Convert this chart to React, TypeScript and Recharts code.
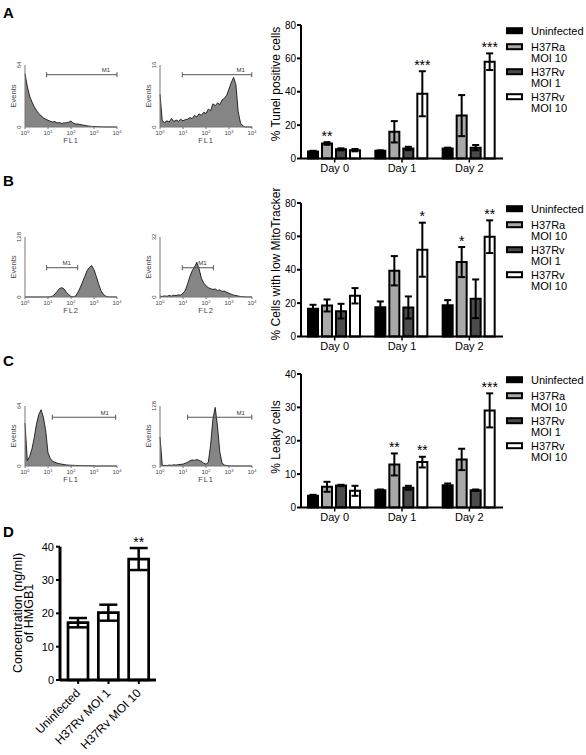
import React from "react";
import {
  Area,
  AreaChart,
  Bar,
  BarChart,
  ErrorBar,
  LabelList,
  ReferenceLine,
  XAxis,
  YAxis,
} from "recharts";

const FONT = "'Liberation Sans', Arial, Helvetica, sans-serif";

// ---- bar panels A-C ----
const days = ["Day 0", "Day 1", "Day 2"];
const groupNames = [["Uninfected"], ["H37Ra", "MOI 10"], ["H37Rv", "MOI 1"], ["H37Rv", "MOI 10"]];
const groupFills = ["#000000", "#a9a9a9", "#4b4b4b", "#ffffff"];

// rows: Uninfected, H37Ra MOI 10, H37Rv MOI 1, H37Rv MOI 10 ; columns: day 0,1,2
const tunelMean = [
  [4.2, 4.6, 6.0],
  [9.0, 16.0, 25.7],
  [5.5, 6.0, 6.5],
  [5.0, 38.8, 58.0],
];
const tunelErr = [
  [0.4, 0.3, 0.5],
  [0.8, 6.4, 12.3],
  [0.6, 1.0, 1.6],
  [0.7, 13.5, 5.0],
];
const tunelSig = [
  ["", "", ""],
  ["**", "", ""],
  ["", "", ""],
  ["", "***", "***"],
];

const mitoMean = [
  [16.6, 17.6, 18.8],
  [18.6, 39.4, 44.6],
  [15.2, 17.4, 22.6],
  [24.4, 52.0, 59.8],
];
const mitoErr = [
  [2.4, 3.4, 3.0],
  [3.6, 8.8, 9.0],
  [4.4, 6.6, 11.6],
  [4.6, 16.2, 9.8],
];
const mitoSig = [
  ["", "", ""],
  ["", "", "*"],
  ["", "", ""],
  ["", "*", "**"],
];

const leakyMean = [
  [3.5, 5.2, 6.7],
  [6.2, 12.9, 14.4],
  [6.6, 5.9, 5.2],
  [5.0, 13.6, 29.1],
];
const leakyErr = [
  [0.3, 0.2, 0.5],
  [1.5, 3.3, 3.2],
  [0.2, 0.6, 0.2],
  [1.5, 1.6, 5.1],
];
const leakySig = [
  ["", "", ""],
  ["", "**", ""],
  ["", "", ""],
  ["", "**", "***"],
];

const ticks80 = [0, 20, 40, 60, 80];
const ticks40 = [0, 10, 20, 30, 40];

// ---- panel D ----
const hmgbNames = ["Uninfected", "H37Rv MOI 1", "H37Rv MOI 10"];
const hmgbMean = [17.2, 20.2, 36.3];
const hmgbErr = [1.4, 2.4, 3.3];
const hmgbSig = ["", "", "**"];

// ---- flow histograms (x = log10 fluorescence) ----
const channels = [
  0, 0.1, 0.2, 0.3, 0.4, 0.5, 0.6, 0.7, 0.8, 0.9, 1, 1.1, 1.2, 1.3, 1.4, 1.5, 1.6, 1.7, 1.8, 1.9, 2,
  2.1, 2.2, 2.3, 2.4, 2.5, 2.6, 2.7, 2.8, 2.9, 3, 3.1, 3.2, 3.3, 3.4, 3.5, 3.6, 3.7, 3.8, 3.9, 4,
];
const decades = [0, 1, 2, 3, 4];

const histA1 = [
  55, 42, 32, 26, 21, 17, 14, 11.5, 9.5, 8, 7, 6, 5.2, 5.6, 4.2, 4.6, 3.6, 4.2, 4.4, 5.0, 6.2, 4.0,
  3.2, 3.0, 2.6, 2.1, 1.6, 1.2, 0.9, 0.6, 0.5, 0.4, 0.3, 0.2, 0.1, 0, 0, 0, 0, 0, 0,
];
const histA2 = [
  8.5, 1.5, 1.2, 1.6, 1.3, 2.2, 1.4, 1.8, 1.5, 2.0, 1.6, 1.9, 2.0, 2.4, 2.2, 3.0, 2.6, 3.4, 3.0, 3.8,
  3.5, 4.6, 4.2, 6.0, 5.5, 6.2, 5.8, 7.0, 7.4, 8.2, 9.8, 11.5, 12.8, 11.0, 4.0, 1.0, 0.3, 0, 0, 0, 0,
];
const histB1 = [
  0, 0, 0, 0, 0, 0, 0, 0, 0, 0, 0, 0.5, 2, 6, 12, 18, 20, 17, 10, 5, 1, 0.5, 2, 10, 20, 32, 44, 56,
  63, 67, 58, 44, 28, 14, 6, 2, 0.5, 0, 0, 0, 0,
];
const histB2 = [
  0.5, 0.3, 0.6, 0.4, 0.8, 0.5, 1.0, 0.7, 1.2, 1.0, 2.0, 3.5, 7, 11, 14, 16, 18.5, 15, 10, 7.5, 6, 5,
  4.5, 4, 4.3, 3.5, 3.8, 3.0, 3.2, 2.5, 2.0, 1.5, 1.0, 0.8, 0.5, 0.3, 0.2, 0, 0, 0, 0,
];
const histC1 = [
  46, 6, 10, 18, 30, 45, 55, 60, 52, 38, 14, 8, 5, 4, 3, 2.5, 2, 1.5, 1.2, 1, 0.8, 0.7, 0.6, 0.5, 0.5,
  0.4, 0.4, 0.3, 0.3, 0.2, 0.2, 0, 0, 0, 0, 0, 0, 0, 0, 0, 0,
];
const histC2 = [
  62, 1, 1.5, 1, 2, 1.5, 2.5, 2, 3, 3.5, 4, 6, 8, 11, 13, 12, 14, 12, 10, 6, 4, 8, 45, 100, 125, 85,
  30, 6, 2, 1, 0.5, 0, 0, 0, 0, 0, 0, 0, 0, 0, 0,
];

// M1 gates: [from, to, height]
const gateA1 = [0.94, 4.0, 54];
const gateA2 = [0.97, 3.99, 13.5];
const gateB1 = [0.94, 2.29, 62.5];
const gateB2 = [0.97, 2.32, 15.6];
const gateC1 = [1.19, 3.94, 52];
const gateC2 = [1.2, 3.99, 104];

const makeStars = (errs: number[], means: number[], size: number, gap: number) => (props: any) => {
  const { value, index } = props;
  if (!value) return null;
  const vb = props.viewBox ?? props;
  const errPx = (errs[index] / means[index]) * vb.height;
  return (
    <text
      x={vb.x + vb.width / 2}
      y={vb.y - errPx - gap}
      textAnchor="middle"
      fontSize={size}
      fontFamily={FONT}
      fill="#000"
    >
      {value}
    </text>
  );
};

function LegendBox({ left, top }: { left: number; top: number }) {
  const rows = [5.7, 21.7, 46.7, 71.7];
  return (
    <svg style={{ position: "absolute", left, top }} width={84} height={100}>
      {groupNames.map((lines, g) => (
        <g key={g}>
          <rect x={2} y={rows[g] - 2.5} width={15} height={5} fill={groupFills[g]} stroke="#000" strokeWidth={2} />
          {lines.map((t, k) => (
            <text key={k} x={26} y={rows[g] + 4 + k * 11.6} fontSize={11} fontFamily={FONT} fill="#000">
              {t}
            </text>
          ))}
        </g>
      ))}
    </svg>
  );
}

function DayPanel(props: {
  plotTop: number;
  mean: number[][];
  err: number[][];
  sig: string[][];
  yMax: number;
  ticks: number[];
  title: string;
  titleY: number;
}) {
  const { plotTop, mean, err, sig, yMax, ticks, title, titleY } = props;
  const mt = 20;
  const plotH = 133.5;
  const rows = days.map((day, i) => {
    const row: Record<string, string | number> = { day };
    mean.forEach((m, g) => {
      row["m" + g] = m[i];
      row["e" + g] = err[g][i];
      row["s" + g] = sig[g][i];
    });
    return row;
  });
  const top = plotTop - mt;
  return (
    <div style={{ position: "absolute", left: 240, top }}>
      <BarChart
        width={263}
        height={mt + plotH + 22}
        data={rows}
        margin={{ top: mt, right: 0, bottom: 0, left: 0 }}
        barCategoryGap={7}
        barGap={4}
      >
        <XAxis
          dataKey="day"
          height={22}
          axisLine={{ stroke: "#000", strokeWidth: 2 }}
          tickLine={{ stroke: "#000", strokeWidth: 1.5 }}
          tickSize={4}
          tick={{ fontSize: 11, fill: "#000", fontFamily: FONT }}
        />
        <YAxis
          width={61}
          domain={[0, yMax]}
          ticks={ticks}
          interval={0}
          axisLine={{ stroke: "#000", strokeWidth: 2 }}
          tickLine={{ stroke: "#000", strokeWidth: 2 }}
          tickSize={4}
          tickMargin={1}
          tick={{ fontSize: 10, fill: "#000", fontFamily: FONT }}
          label={() => (
            <text
              x={36}
              y={titleY - top}
              transform={`rotate(-90 36 ${titleY - top})`}
              textAnchor="middle"
              dominantBaseline="central"
              fontSize={12}
              fontFamily={FONT}
              fill="#000"
            >
              {title}
            </text>
          )}
        />
        {groupFills.map((fill, g) => (
          <Bar key={g} dataKey={"m" + g} fill={fill} stroke="#000" strokeWidth={2} isAnimationActive={false}>
            <ErrorBar dataKey={"e" + g} width={3.5} stroke="#000" strokeWidth={2} />
            <LabelList dataKey={"s" + g} content={makeStars(err[g], mean[g], 14, 1.5)} />
          </Bar>
        ))}
      </BarChart>
      <LegendBox left={265} top={mt} />
    </div>
  );
}

const M1Shape = (p: any) => {
  const { x1, y1, x2 } = p;
  return (
    <g>
      <line x1={x1} y1={y1} x2={x2} y2={y1} stroke="#555" strokeWidth={1} />
      <line x1={x1} y1={y1 - 2.5} x2={x1} y2={y1 + 2.5} stroke="#555" strokeWidth={1} />
      <line x1={x2} y1={y1 - 2.5} x2={x2} y2={y1 + 2.5} stroke="#555" strokeWidth={1} />
      <text x={x2 - 11} y={y1 - 2.5} textAnchor="middle" fontSize={6} fontFamily={FONT} fill="#333">
        M1
      </text>
    </g>
  );
};

function Histo(props: {
  plotLeft: number;
  plotTop: number;
  plotH: number;
  counts: number[];
  yMax: number;
  xLabel: string;
  gate: number[];
}) {
  const { plotLeft, plotTop, plotH, counts, yMax, xLabel, gate } = props;
  const ml = 25;
  const mt = 10;
  const xh = 24;
  const rows = channels.map((c, i) => ({ c, n: counts[i] }));
  return (
    <div style={{ position: "absolute", left: plotLeft - ml, top: plotTop - mt }}>
      <AreaChart
        width={ml + 92 + 8}
        height={mt + plotH + xh}
        data={rows}
        margin={{ top: mt, right: 8, bottom: 0, left: 0 }}
      >
        <XAxis
          type="number"
          dataKey="c"
          domain={[0, 4]}
          ticks={decades}
          interval={0}
          height={xh}
          axisLine={{ stroke: "#777", strokeWidth: 1 }}
          tickLine={{ stroke: "#777", strokeWidth: 1 }}
          tickSize={2}
          tick={(t: any) => (
            <text x={t.x} y={t.y + 4} textAnchor="middle" fontSize={6} fontFamily={FONT} fill="#444">
              10
              <tspan dy={-2.5} fontSize={4}>
                {t.payload.value}
              </tspan>
            </text>
          )}
          label={(l: any) => {
            const vb = l.viewBox ?? {};
            return (
              <text
                x={ml + 46}
                y={(vb.y ?? mt + plotH) + 16}
                textAnchor="middle"
                fontSize={7.5}
                letterSpacing={0.8}
                fontFamily={FONT}
                fill="#444"
              >
                {xLabel}
              </text>
            );
          }}
        />
        <YAxis
          type="number"
          domain={[0, yMax]}
          ticks={[0, yMax]}
          interval={0}
          width={ml}
          axisLine={{ stroke: "#777", strokeWidth: 1 }}
          tickLine={false}
          tick={(t: any) => (
            <text
              x={18.5}
              y={t.y}
              transform={`rotate(-90 18.5 ${t.y})`}
              textAnchor="middle"
              dominantBaseline="central"
              fontSize={6}
              fontFamily={FONT}
              fill="#444"
            >
              {t.payload.value}
            </text>
          )}
          label={() => (
            <text
              x={13}
              y={mt + plotH / 2}
              transform={`rotate(-90 13 ${mt + plotH / 2})`}
              textAnchor="middle"
              dominantBaseline="central"
              fontSize={7.5}
              fontFamily={FONT}
              fill="#444"
            >
              Events
            </text>
          )}
        />
        <Area
          type="linear"
          dataKey="n"
          stroke="#000"
          strokeWidth={0.8}
          fill="#858585"
          fillOpacity={1}
          dot={false}
          activeDot={false}
          isAnimationActive={false}
        />
        <ReferenceLine
          segment={[
            { x: gate[0], y: gate[2] },
            { x: gate[1], y: gate[2] },
          ]}
          shape={M1Shape}
        />
      </AreaChart>
    </div>
  );
}

function HmgbPanel() {
  const rows = hmgbNames.map((name, i) => ({ name, mean: hmgbMean[i], err: hmgbErr[i], sig: hmgbSig[i] }));
  const top = 530;
  return (
    <div style={{ position: "absolute", left: 0, top }}>
      <BarChart width={170} height={225} data={rows} margin={{ top: 16.7, right: 14, bottom: 0, left: 0 }} barSize={20}>
        <XAxis
          dataKey="name"
          height={75}
          interval={0}
          padding={{ left: 3, right: 2 }}
          axisLine={{ stroke: "#000", strokeWidth: 3 }}
          tickLine={{ stroke: "#000", strokeWidth: 2 }}
          tickSize={4}
          tick={(t: any) => (
            <text
              x={t.x}
              y={t.y + 5}
              transform={`rotate(-45 ${t.x} ${t.y + 5})`}
              textAnchor="end"
              dominantBaseline="central"
              fontSize={12}
              fontFamily={FONT}
              fill="#000"
            >
              {t.payload.value}
            </text>
          )}
        />
        <YAxis
          width={60}
          domain={[0, 40]}
          ticks={ticks40}
          interval={0}
          axisLine={{ stroke: "#000", strokeWidth: 3 }}
          tickLine={{ stroke: "#000", strokeWidth: 2 }}
          tickSize={4}
          tickMargin={2}
          tick={{ fontSize: 11, fill: "#000", fontFamily: FONT }}
          label={() => (
            <g>
              <text
                x={17.5}
                y={613 - top}
                transform={`rotate(-90 17.5 ${613 - top})`}
                textAnchor="middle"
                dominantBaseline="central"
                fontSize={12.5}
                fontFamily={FONT}
                fill="#000"
              >
                Concentration (ng/ml)
              </text>
              <text
                x={29}
                y={613 - top}
                transform={`rotate(-90 29 ${613 - top})`}
                textAnchor="middle"
                dominantBaseline="central"
                fontSize={12.5}
                fontFamily={FONT}
                fill="#000"
              >
                of HMGB1
              </text>
            </g>
          )}
        />
        <Bar dataKey="mean" fill="#ffffff" stroke="#000" strokeWidth={2.7} isAnimationActive={false}>
          <ErrorBar dataKey="err" width={9} stroke="#000" strokeWidth={2.5} />
          <LabelList dataKey="sig" content={makeStars(hmgbErr, hmgbMean, 14, 1)} />
        </Bar>
      </BarChart>
    </div>
  );
}

const letterStyle = (top: number): React.CSSProperties => ({
  position: "absolute",
  left: 3,
  top,
  fontSize: 15,
  fontWeight: "bold",
  lineHeight: "15px",
  fontFamily: FONT,
});

export default function App() {
  return (
    <div style={{ position: "absolute", left: 0, top: 0, width: 586, height: 755, background: "#fff", fontFamily: FONT }}>
      <div style={letterStyle(5)}>A</div>
      <div style={letterStyle(173)}>B</div>
      <div style={letterStyle(353)}>C</div>
      <div style={letterStyle(524)}>D</div>

      <Histo plotLeft={25} plotTop={65} plotH={62} counts={histA1} yMax={64} xLabel="FL1" gate={gateA1} />
      <Histo plotLeft={160} plotTop={65} plotH={62} counts={histA2} yMax={16} xLabel="FL1" gate={gateA2} />
      <Histo plotLeft={25} plotTop={237} plotH={60} counts={histB1} yMax={128} xLabel="FL2" gate={gateB1} />
      <Histo plotLeft={160} plotTop={237} plotH={60} counts={histB2} yMax={32} xLabel="FL2" gate={gateB2} />
      <Histo plotLeft={25} plotTop={406} plotH={60} counts={histC1} yMax={64} xLabel="FL1" gate={gateC1} />
      <Histo plotLeft={160} plotTop={406} plotH={60} counts={histC2} yMax={128} xLabel="FL1" gate={gateC2} />

      <DayPanel plotTop={25} mean={tunelMean} err={tunelErr} sig={tunelSig} yMax={80} ticks={ticks80} title="% Tunel positive cells" titleY={84} />
      <DayPanel plotTop={203} mean={mitoMean} err={mitoErr} sig={mitoSig} yMax={80} ticks={ticks80} title="% Cells with low MitoTracker" titleY={264} />
      <DayPanel plotTop={374} mean={leakyMean} err={leakyErr} sig={leakySig} yMax={40} ticks={ticks40} title="% Leaky cells" titleY={437} />

      <HmgbPanel />
    </div>
  );
}
